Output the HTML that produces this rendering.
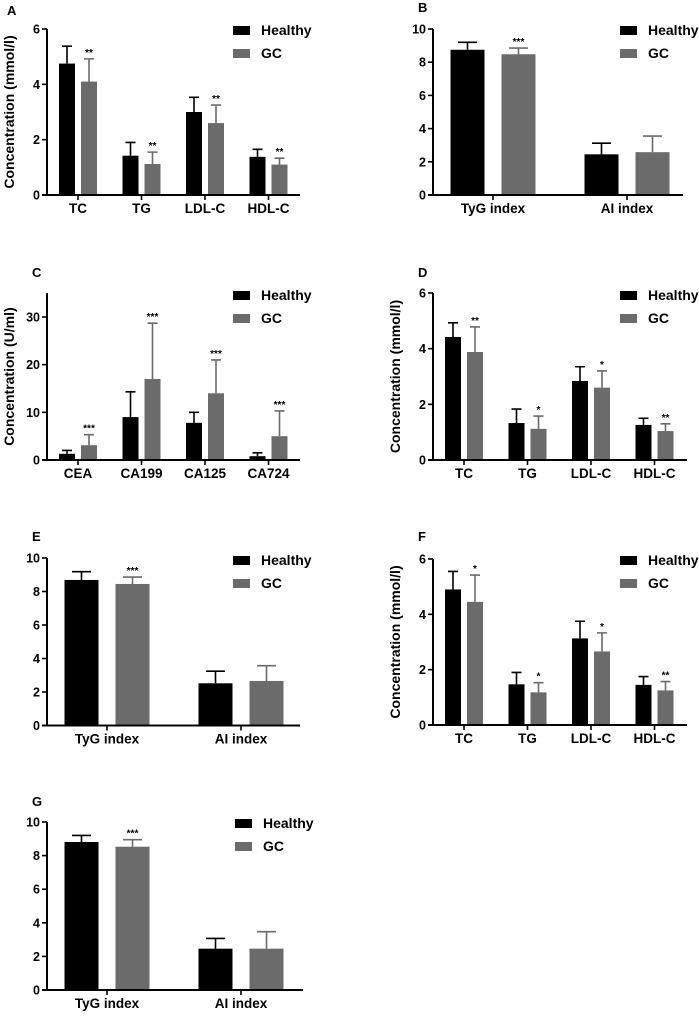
<!DOCTYPE html>
<html><head><meta charset="utf-8"><style>
body{margin:0;background:#fff}
svg{display:block}
text{font-family:"Liberation Sans",Arial,sans-serif;font-weight:bold;fill:#000}
</style></head><body>
<svg id="fig" width="699" height="1016" viewBox="0 0 699 1016" xmlns="http://www.w3.org/2000/svg"></svg>
<script>
// ---- data ----
const lipidCats = ["TC","TG","LDL-C","HDL-C"];
const indexCats = ["TyG index","AI index"];
const tumorCats = ["CEA","CA199","CA125","CA724"];

const aHealthy = [4.75,1.42,3.0,1.38];   const aHealthyErr = [5.38,1.9,3.53,1.65];
const aGC = [4.1,1.12,2.6,1.1];          const aGCErr = [4.92,1.55,3.25,1.33];
const aSig = ["**","**","**","**"];

const bHealthy = [8.75,2.45]; const bHealthyErr = [9.2,3.12];
const bGC = [8.48,2.58];      const bGCErr = [8.85,3.55];
const bSig = ["***",""];

const cHealthy = [1.3,9.0,7.8,0.8];  const cHealthyErr = [2.0,14.3,10.0,1.5];
const cGC = [3.1,17.0,14.0,5.0];     const cGCErr = [5.3,28.7,21.0,10.3];
const cSig = ["***","***","***","***"];

const dHealthy = [4.42,1.33,2.84,1.26]; const dHealthyErr = [4.93,1.83,3.35,1.5];
const dGC = [3.88,1.12,2.6,1.04];       const dGCErr = [4.78,1.58,3.2,1.3];
const dSig = ["**","*","*","**"];

const eHealthy = [8.69,2.52]; const eHealthyErr = [9.18,3.24];
const eGC = [8.45,2.66];      const eGCErr = [8.86,3.57];
const eSig = ["***",""];

const fHealthy = [4.9,1.47,3.13,1.45]; const fHealthyErr = [5.55,1.9,3.75,1.75];
const fGC = [4.45,1.18,2.66,1.25];     const fGCErr = [5.42,1.53,3.33,1.57];
const fSig = ["*","*","*","**"];

const gHealthy = [8.81,2.46]; const gHealthyErr = [9.2,3.07];
const gGC = [8.53,2.46];      const gGCErr = [8.95,3.47];
const gSig = ["***",""];

const ticks6 = [0,2,4,6];
const ticks10 = [0,2,4,6,8,10];
const ticks30 = [0,10,20,30];

const NS="http://www.w3.org/2000/svg";
const svg=document.getElementById('fig');
function el(tag,attrs,parent){const e=document.createElementNS(NS,tag);for(const k in attrs)e.setAttribute(k,attrs[k]);(parent||svg).appendChild(e);return e;}
function txt(s,attrs,parent){const t=el('text',attrs,parent);t.textContent=s;return t;}

function panel(p){
  const g=el('g',{});
  
  
  const yS=v=>p.y0-(v/p.tickMax)*(p.y0-p.yTick);
  const four=p.cats.length===4;
  const centers=p.cats.map((c,i)=> four ? p.ax+31+i*63.5 : p.ax+60+i*134);
  const bw=four?16:34, off=four?11:25.5;
  const L=txt(p.letter,{x:p.lx,y:p.ly,'font-size':13},g);
  
  
  p.cats.forEach((c,i)=>{
    [[p.h,p.he,'#000',-off],[p.gc,p.gce,'#6b6b6b',off]].forEach(([vals,errs,col,o],k)=>{
      const cx=centers[i]+o, top=yS(vals[i]), et=yS(errs[i]);
      const r=el('rect',{x:cx-bw/2,y:top,width:bw,height:p.y0-top,fill:col},g);
      
      
      const e=el('path',{d:`M${cx} ${top} V${et} M${cx-bw/4-1} ${et} H${cx+bw/4+1}`,stroke:col,'stroke-width':1.6,fill:'none'},g);
      
      
      if(k===1&&p.sig[i]){
        const s=txt(p.sig[i],{x:cx,y:et-3,'font-size':10,'text-anchor':'middle'},g);
        
        
      }
    });
    const t=el('line',{x1:centers[i],x2:centers[i],y1:p.y0,y2:p.y0+5,stroke:'#000','stroke-width':1.6},g);
    
    
    const xl=txt(c,{x:centers[i],y:p.y0+18,'font-size':13.5,'text-anchor':'middle'},g);
    
    
  });
  const ya=el('line',{x1:p.ax,x2:p.ax,y1:p.y0,y2:yS(p.axTop),stroke:'#000','stroke-width':2},g);
  
  
  const xa=el('line',{x1:p.ax-5,x2:p.xEnd,y1:p.y0,y2:p.y0,stroke:'#000','stroke-width':2},g);
  
  
  p.ticks.forEach(v=>{
    const y=yS(v);
    const tk=el('line',{x1:p.ax-5,x2:p.ax,y1:y,y2:y,stroke:'#000','stroke-width':1.6},g);
    
    
    const tl=txt(String(v),{x:p.ax-7,y:y+4.5,'font-size':12.5,'text-anchor':'end'},g);
    
    
  });
  if(p.ytitle){
    const cy=(p.y0+yS(p.axTop))/2;
    const yt=txt(p.ytitle,{x:0,y:0,'font-size':14,'text-anchor':'middle',transform:`translate(${p.ax-33},${cy}) rotate(-90)`},g);
    
    
  }
  [['Healthy','#000',0],['GC','#6b6b6b',23]].forEach(([n,col,dy])=>{
    const sq=el('rect',{x:p.legx,y:p.legy+dy-4,width:17,height:9,fill:col},g);
    
    
    const lt=txt(n,{x:p.legx+28,y:p.legy+dy+5,'font-size':14},g);
    
    
  });
}

panel({letter:'A',lx:7,ly:15,ax:47,y0:195,yTick:29,tickMax:6,axTop:6,ticks:ticks6,xEnd:300,cats:lipidCats,h:aHealthy,he:aHealthyErr,gc:aGC,gce:aGCErr,sig:aSig,ytitle:'Concentration  (mmol/l)',legx:233,legy:30});
panel({letter:'B',lx:418,ly:12,ax:433,y0:195,yTick:29,tickMax:10,axTop:10,ticks:ticks10,xEnd:683,cats:indexCats,h:bHealthy,he:bHealthyErr,gc:bGC,gce:bGCErr,sig:bSig,legx:620,legy:30});
panel({letter:'C',lx:32,ly:277,ax:47,y0:460,yTick:317,tickMax:30,axTop:35,ticks:ticks30,xEnd:300,cats:tumorCats,h:cHealthy,he:cHealthyErr,gc:cGC,gce:cGCErr,sig:cSig,ytitle:'Concentration  (U/ml)',legx:233,legy:295});
panel({letter:'D',lx:418,ly:277,ax:433,y0:460,yTick:293,tickMax:6,axTop:6,ticks:ticks6,xEnd:687,cats:lipidCats,h:dHealthy,he:dHealthyErr,gc:dGC,gce:dGCErr,sig:dSig,ytitle:'Concentration  (mmol/l)',legx:620,legy:295});
panel({letter:'E',lx:32,ly:541,ax:47,y0:725.5,yTick:558,tickMax:10,axTop:10,ticks:ticks10,xEnd:300,cats:indexCats,h:eHealthy,he:eHealthyErr,gc:eGC,gce:eGCErr,sig:eSig,legx:233,legy:560});
panel({letter:'F',lx:418,ly:541,ax:433,y0:725,yTick:559,tickMax:6,axTop:6,ticks:ticks6,xEnd:687,cats:lipidCats,h:fHealthy,he:fHealthyErr,gc:fGC,gce:fGCErr,sig:fSig,ytitle:'Concentration  (mmol/l)',legx:620,legy:560});
panel({letter:'G',lx:32,ly:806,ax:47,y0:990,yTick:822,tickMax:10,axTop:10,ticks:ticks10,xEnd:303,cats:indexCats,h:gHealthy,he:gHealthyErr,gc:gGC,gce:gGCErr,sig:gSig,legx:235,legy:823});
</script>
</body></html>
